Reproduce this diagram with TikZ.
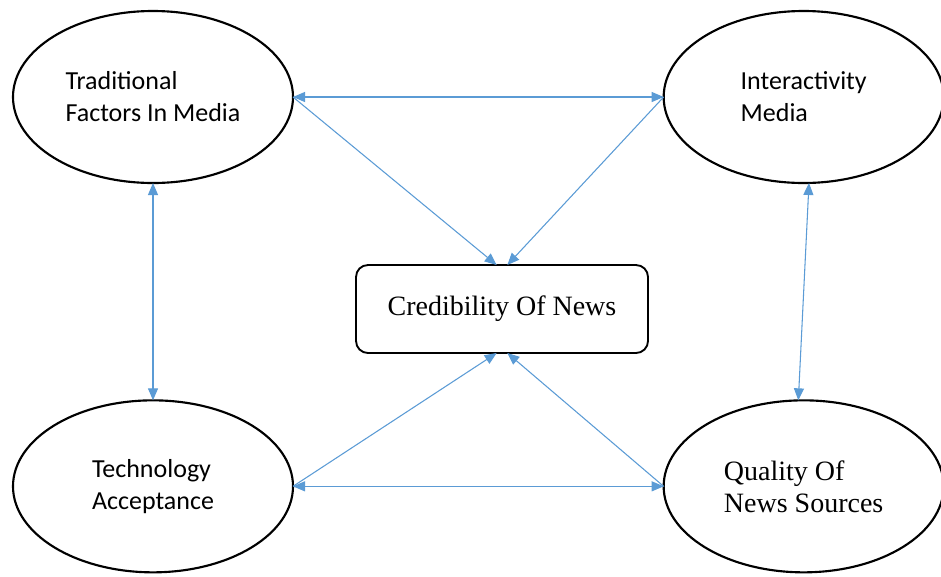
\documentclass[tikz,border=0pt]{standalone}
\usepackage{fontspec}
\usepackage{tikz}
\usetikzlibrary{arrows.meta,positioning,shapes.geometric}
\newfontfamily\calibrifont{Carlito}
\newfontfamily\timesfont{Liberation Serif}
\definecolor{linkblue}{HTML}{5B9BD5}

\begin{document}
\begin{tikzpicture}[x=0.75pt,y=0.75pt,>={Triangle[length=9pt,width=7.5pt]},node distance=163pt and 278pt]
  \tikzset{factor/.style={draw,ellipse,line width=1.6pt,outer sep=0pt,minimum width=210pt,minimum height=129pt,align=left,font=\calibrifont\fontsize{19.5}{24}\selectfont},
    outcome/.style={draw,line width=1.4pt,rounded corners=9pt,outer sep=0pt,minimum width=219pt,minimum height=66pt,font=\timesfont\fontsize{21}{24}\selectfont},
    link/.style={draw=linkblue,line width=0.8pt}}
  \useasboundingbox (-153,97) rectangle (788,-479);
  \node[factor] (trad) at (0,0) {Traditional\\Factors In Media};
  \node[factor,right=of trad] (inter) {Interactivity\\Media};
  \node[factor,below=of trad] (tech) {Technology\\Acceptance};
  \node[factor,right=of tech,font=\timesfont\fontsize{21}{24}\selectfont] (qual) {Quality Of\\News Sources};
  \node[outcome] (cred) at (349,-212) {Credibility Of News};
  \draw[link,<->] (trad.east) -- (inter.west);
  \draw[link,<->] (tech.east) -- (qual.west);
  \draw[link,<->] (trad.south) -- (tech.north);
  \draw[link,<->] ([xshift=4]inter.south) -- ([xshift=-4]qual.north);
  \draw[link,->] (trad.east) -- ([xshift=-4]cred.north);
  \draw[link,->] (inter.west) -- ([xshift=4]cred.north);
  \draw[link,->] (tech.east) -- ([xshift=-4]cred.south);
  \draw[link,->] (qual.west) -- ([xshift=4]cred.south);
\end{tikzpicture}
\end{document}
